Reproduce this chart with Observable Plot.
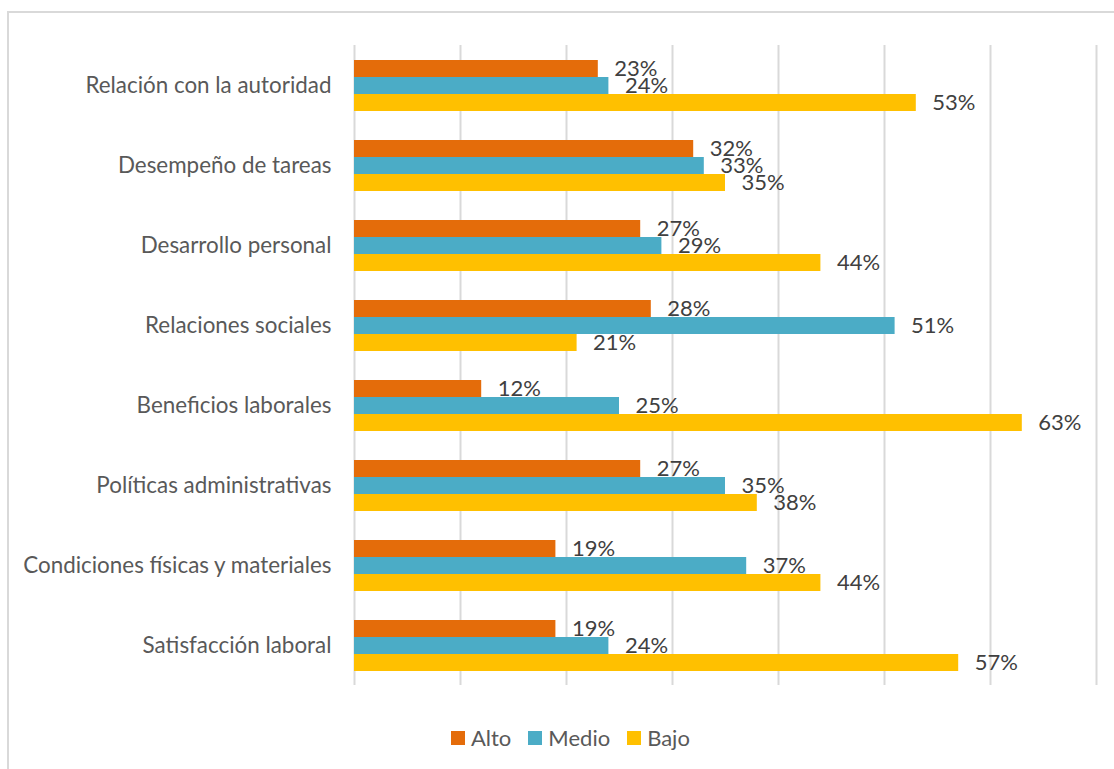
<!DOCTYPE html>
<html>
<head>
<meta charset="utf-8">
<script src="https://cdn.jsdelivr.net/npm/d3@7"></script>
<script src="https://cdn.jsdelivr.net/npm/@observablehq/plot@0.6"></script>
<style>
  html, body { margin: 0; padding: 0; background: #fff; }
  body { width: 1114px; height: 769px; position: relative; overflow: hidden; font-family: Lato, "Open Sans", sans-serif; }
  #frame { position: absolute; left: 7px; top: 11px; width: 1200px; height: 900px; border: 2px solid #d9d9d9; box-sizing: border-box; }
  #chart { position: absolute; left: 0; top: 0; }
  #legend { position: absolute; left: 451px; top: 724px; display: flex; align-items: center; font-size: 22px; color: #595959; }
  #legend .item { display: flex; align-items: center; margin-right: 17px; }
  #legend .sw { width: 14px; height: 14px; margin-right: 6px; }
</style>
</head>
<body>
<div id="frame"></div>
<div id="chart"></div>
<div id="legend"></div>
<script>
const categories = [
  "Relación con la autoridad",
  "Desempeño de tareas",
  "Desarrollo personal",
  "Relaciones sociales",
  "Beneficios laborales",
  "Políticas administrativas",
  "Condiciones físicas y materiales",
  "Satisfacción laboral"
];
const series = ["Alto", "Medio", "Bajo"];
const colors = ["#E46C0A", "#4BACC6", "#FFC000"];
const alto  = [23, 32, 27, 28, 12, 27, 19, 19];
const medio = [24, 33, 29, 51, 25, 35, 37, 24];
const bajo  = [53, 35, 44, 21, 63, 38, 44, 57];
const gridTicks = [0, 10, 20, 30, 40, 50, 60, 70];

const values = [alto, medio, bajo];
const data = [];
categories.forEach((c, i) => {
  series.forEach((s, j) => data.push({category: c, series: s, value: values[j][i]}));
});

const chart = Plot.plot({
  width: 1114,
  height: 700,
  marginLeft: 354,
  marginRight: 18,
  marginTop: 42,
  marginBottom: 13,
  style: {fontFamily: "Lato, 'Open Sans', sans-serif", background: "transparent"},
  x: {domain: [0, 70], axis: null},
  y: {domain: series, axis: null, paddingInner: 0, paddingOuter: 0.85},
  fy: {domain: categories, padding: 0, label: null},
  color: {domain: series, range: colors},
  marks: [
    Plot.gridX(gridTicks, {stroke: "#d9d9d9", strokeOpacity: 1, strokeWidth: 2}),
    Plot.barX(data, {x: "value", y: "series", fy: "category", fill: "series"}),
    Plot.text(data, {x: "value", y: "series", fy: "category", text: d => d.value + "%",
      textAnchor: "start", dx: 16, dy: 0, fontSize: 22, fill: "#404040"}),
    Plot.axisFy({anchor: "left", tickSize: 0, tickPadding: 23, fontSize: 22.4, color: "#595959", label: null})
  ]
});
document.getElementById("chart").appendChild(chart);

const legend = document.getElementById("legend");
series.forEach((s, j) => {
  const item = document.createElement("div");
  item.className = "item";
  const sw = document.createElement("div");
  sw.className = "sw";
  sw.style.background = colors[j];
  const t = document.createElement("span");
  t.textContent = s;
  item.appendChild(sw);
  item.appendChild(t);
  legend.appendChild(item);
});
</script>
</body>
</html>
